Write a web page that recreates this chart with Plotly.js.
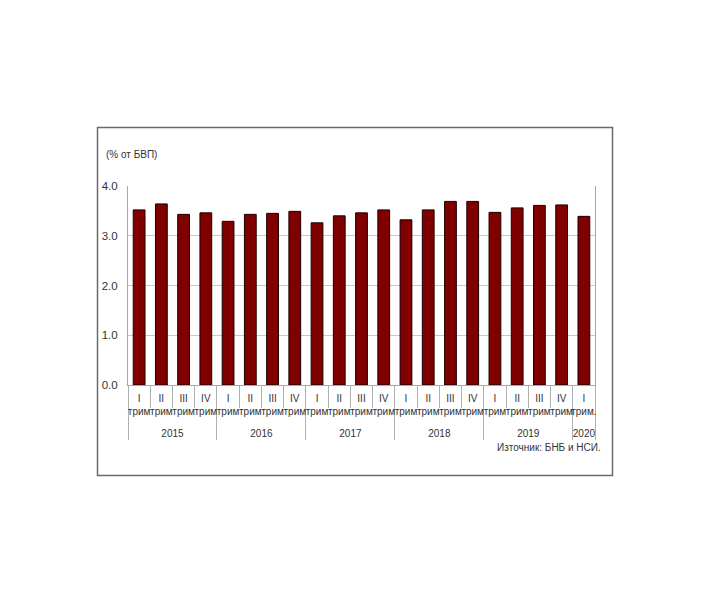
<!DOCTYPE html>
<html>
<head>
<meta charset="utf-8">
<script src="https://cdn.plot.ly/plotly-3.0.1.min.js"></script>
<style>
html,body{margin:0;padding:0;background:#fff;}
#chart{width:710px;height:599px;}
</style>
</head>
<body>
<div id="chart"></div>
<script>
const years = ['2015','2015','2015','2015','2016','2016','2016','2016','2017','2017','2017','2017','2018','2018','2018','2018','2019','2019','2019','2019','2020'];
const quarters = ['I<br>трим','II<br>трим','III<br>трим','IV<br>трим','I<br>трим','II<br>трим','III<br>трим','IV<br>трим','I<br>трим','II<br>трим','III<br>трим','IV<br>трим','I<br>трим','II<br>трим','III<br>трим','IV<br>трим','I<br>трим','II<br>трим','III<br>трим','IV<br>трим','I<br>трим.'];
const values = [3.52,3.64,3.43,3.46,3.29,3.43,3.45,3.49,3.26,3.40,3.46,3.52,3.32,3.52,3.69,3.69,3.47,3.56,3.61,3.62,3.39];
const yTicks = [0,1,2,3,4];
const yTickText = ['0.0','1.0','2.0','3.0','4.0'];

const font = 'Liberation Sans, Arial, sans-serif';

const trace = {
  type: 'bar',
  x: [years, quarters.map(q => q + '<br> ')],
  y: values,
  marker: {color: '#800000', line: {color: '#1a0000', width: 1}},
  hoverinfo: 'y'
};

// plot area: x 128..595, y 186..385
const L = 128, R = 710 - 595, T = 186, B = 599 - 385;
const pw = 710 - L - R, ph = 599 - T - B;
const px = v => (v - L) / pw;
const py = v => (599 - B - v) / ph;

const layout = {
  width: 710, height: 599,
  margin: {l: L, r: R, t: T, b: B, pad: 0},
  paper_bgcolor: '#fff', plot_bgcolor: '#fff',
  showlegend: false,
  bargap: 0.47,
  font: {family: font, color: '#222'},
  xaxis: {
    type: 'multicategory',
    tickangle: 0,
    tickfont: {family: font, size: 10, color: '#333'},
    showline: true, linecolor: '#a8a8a8', linewidth: 1,
    mirror: false,
    ticks: 'outside', tickson: 'boundaries', ticklen: 22, tickcolor: '#b0b0b0', tickwidth: 1,
    ticklabelstandoff: 4,
    showdividers: true, dividercolor: '#b0b0b0', dividerwidth: 1,
    showgrid: false, zeroline: false
  },
  yaxis: {
    range: [0, 4],
    tickvals: yTicks, ticktext: yTickText,
    tickfont: {family: font, size: 11.5, color: '#333'},
    showgrid: true, gridcolor: '#c8c8c8', gridwidth: 1,
    showline: true, linecolor: '#a8a8a8', linewidth: 1, mirror: true,
    ticks: '', ticklabelstandoff: 7,
    zeroline: false
  },
  shapes: [{
    type: 'rect', xref: 'paper', yref: 'paper',
    x0: px(97.5), x1: px(612.5), y0: py(475.5), y1: py(127.5),
    line: {color: '#6a6a6a', width: 1.5}, fillcolor: 'rgba(0,0,0,0)', layer: 'below'
  }],
  annotations: [
    {text: '(% от БВП)', xref: 'paper', yref: 'paper', x: px(104), y: py(154),
     xanchor: 'left', yanchor: 'middle', showarrow: false,
     font: {family: font, size: 10, color: '#333'}},
    {text: 'Източник: БНБ и НСИ.', xref: 'paper', yref: 'paper', x: px(603), y: py(447),
     xanchor: 'right', yanchor: 'middle', showarrow: false,
     font: {family: font, size: 10, color: '#333'}}
  ]
};

Plotly.newPlot('chart', [trace], layout, {staticPlot: true, displayModeBar: false});
</script>
</body>
</html>
